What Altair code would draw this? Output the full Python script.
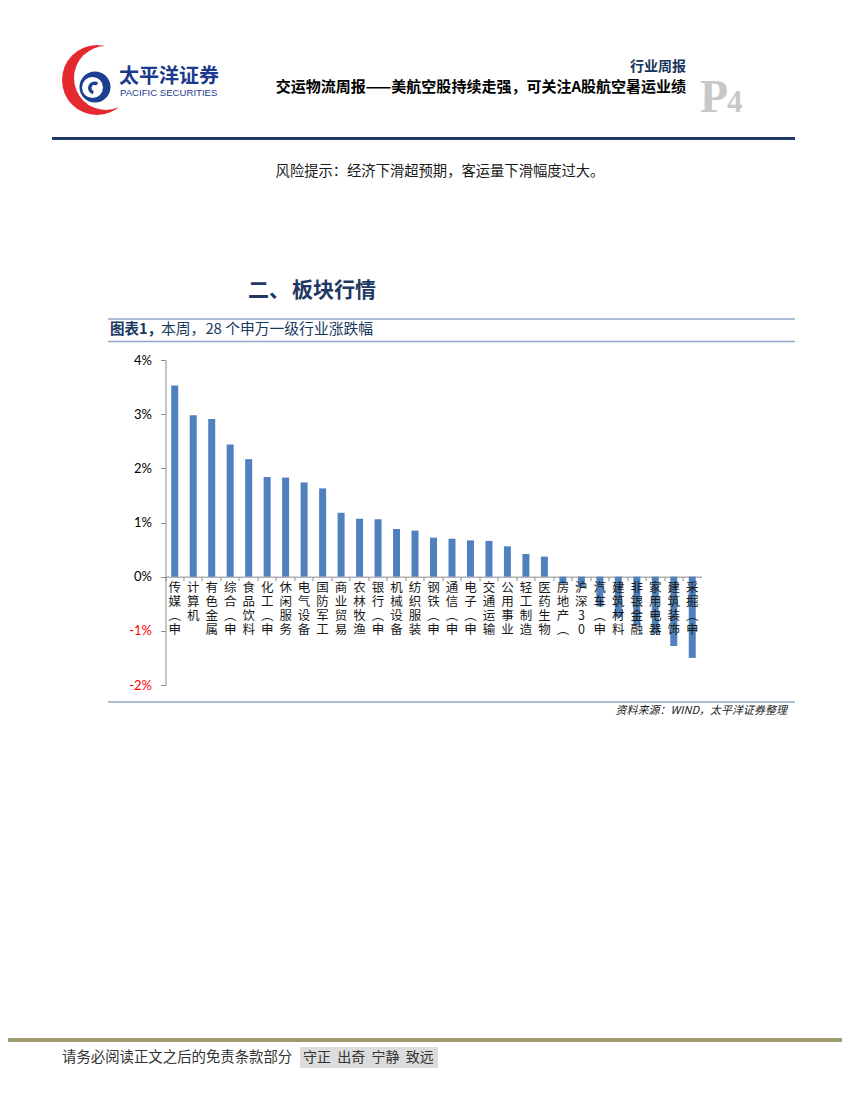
import math
import altair as alt
import pandas as pd

# ---------------- data ----------------
categories = ["传媒(申", "计算机", "有色金属", "综合(申", "食品饮料", "化工(申", "休闲服务",
              "电气设备", "国防军工", "商业贸易", "农林牧渔", "银行(申", "机械设备", "纺织服装",
              "钢铁(申", "通信(申", "电子(申", "交通运输", "公用事业", "轻工制造", "医药生物",
              "房地产(", "沪深30", "汽车(申", "建筑材料", "非银金融", "家用电器", "建筑装饰", "采掘(申"]
changes = [3.53, 2.98, 2.91, 2.44, 2.17, 1.84, 1.83, 1.74, 1.63, 1.18, 1.07, 1.06, 0.88, 0.85,
           0.72, 0.70, 0.67, 0.66, 0.56, 0.42, 0.37, -0.13, -0.20, -0.55, -0.75, -0.90, -1.05,
           -1.28, -1.50]
y_ticks = [-2, -1, 0, 1, 2, 3, 4]

df = pd.DataFrame({"cat": categories, "chg": changes})
ONE = pd.DataFrame({"k": [0]})

CJK = "Noto Sans CJK SC"
NAVY = "#1F3864"
NB = "\u00a0"

# plot origin on the page
OX, OY = 165.5, 360
W, H = 536, 325


def txt(text, x, y, size, color="#000000", bold=False, align="left", font=CJK,
        baseline="middle", italic=False):
    return alt.Chart(ONE).mark_text(
        text=text, align=align, baseline=baseline, fontSize=size, font=font,
        color=color, fontWeight="bold" if bold else "normal",
        fontStyle="italic" if italic else "normal"
    ).encode(x=alt.value(x - OX), y=alt.value(y - OY))


def hline(x1, x2, y, color, w):
    return alt.Chart(ONE).mark_rule(color=color, strokeWidth=w).encode(
        x=alt.value(x1 - OX), x2=alt.value(x2 - OX), y=alt.value(y - OY))


def rect(x1, x2, y1, y2, color):
    return alt.Chart(ONE).mark_rect(color=color).encode(
        x=alt.value(x1 - OX), x2=alt.value(x2 - OX),
        y=alt.value(y1 - OY), y2=alt.value(y2 - OY))


def disc(cx, cy, r, color, r_in=0, t1=0.0, t2=2 * math.pi):
    return alt.Chart(ONE).mark_arc(
        radius=r, radius2=r_in, theta=t1, theta2=t2, color=color, stroke=None
    ).encode(x=alt.value(cx - OX), y=alt.value(cy - OY))


# ---------------- chart ----------------
x_enc = alt.X("cat:N", sort=None, title=None,
              scale=alt.Scale(paddingInner=0, paddingOuter=0),
              axis=alt.Axis(labels=False, ticks=True, tickSize=4, bandPosition=0,
                            domainColor="#8C8C8C", tickColor="#8C8C8C",
                            offset=-H * 2 / 6, grid=False))

bars = alt.Chart(df).mark_bar(size=7, color="#4F81BD").encode(
    x=x_enc,
    y=alt.Y("chg:Q", title=None,
            scale=alt.Scale(domain=[-2, 4], nice=False, zero=False),
            axis=alt.Axis(values=y_ticks, labelExpr="datum.value + '%'", grid=False,
                          tickSize=5, domainColor="#8C8C8C", tickColor="#8C8C8C",
                          labelFont="Lato", labelFontSize=13, labelPadding=9,
                          labelColor={"expr": "datum.value < 0 ? '#FF0000' : '#000000'"}))
)

xlabels = alt.Chart(df).transform_calculate(
    lines="split(replace(datum.cat, '(', '︵'), '')"
).mark_text(baseline="top", align="center", fontSize=12.5, lineHeight=14, font=CJK,
            color="#1A1A1A").encode(
    x=x_enc,
    y=alt.value(582 - OY),
    text="lines:N"
)

# ---------------- page decorations ----------------
deco = [
    # logo
    disc(97, 80, 35, "#E42A2F"),
    disc(106, 78, 32, "#FFFFFF"),
    disc(95, 87, 15.5, "#1E3F91"),
    disc(92.5, 87.5, 10.5, "#FFFFFF"),
    disc(94.5, 88, 6.5, "#1E3F91", r_in=3, t1=3.4, t2=6.9),
    txt("太平洋证券", 119, 77, 20, "#1B3A8C", bold=True),
    txt("PACIFIC SECURITIES", 120, 92.5, 9.6, "#1B3A8C", font="Liberation Sans"),
    # header right
    txt("行业周报", 686, 67, 14, "#17365D", bold=True, align="right"),
    txt("交运物流周报——美航空股持续走强，可关注A股航空暑运业绩", 686, 87, 15, "#000000",
        bold=True, align="right"),
    txt("P", 700, 112, 46, "#C8C8C8", bold=True, font="Liberation Serif", baseline="alphabetic"),
    txt("4", 727, 112, 31, "#C8C8C8", bold=True, font="Liberation Serif", baseline="alphabetic"),
    hline(52, 795, 138.5, NAVY, 3),
    # body text
    txt("风险提示：经济下滑超预期，客运量下滑幅度过大。", 440, 172, 14.3, "#1A1A1A", align="center"),
    txt("二、", 248, 290.5, 21, NAVY, bold=True),
    txt("板块行情", 292, 290.5, 21, NAVY, bold=True),
    # chart frame
    hline(108, 795, 319, "#8EA9C8", 1.5),
    hline(108, 795, 341.5, "#8EA9C8", 1.5),
    txt("图表1，", 110, 330, 14.5, "#17375E", bold=True),
    txt("本周，28" + NB + "个申万一级行业涨跌幅", 161, 330, 14.8, "#17375E"),
    hline(108, 795, 702, "#8EA9C8", 1.5),
    txt("资料来源：WIND，太平洋证券整理", 787, 711, 11, "#1A1A1A", align="right", italic=True),
    # footer
    hline(0, 850, 1040, "#9D9A6E", 4),
    rect(300, 438, 1047, 1068, "#DCDCDC"),
    txt("请务必阅读正文之后的免责条款部分", 62, 1057.5, 14.4, "#333333"),
    txt("守正" + NB * 2 + "出奇" + NB * 2 + "宁静" + NB * 2 + "致远", 303, 1057.5, 14,
        "#333333"),
]

chart = alt.layer(bars, xlabels, *deco).properties(
    width=W, height=H,
    autosize=alt.AutoSizeParams(type="none"),
    padding={"left": OX - 8, "top": OY - 8, "right": 834 - (OX - 8) - W,
             "bottom": 1075 - OY - H},
    background="white",
).configure_view(stroke=None)

chart.save("out.html", embed_options={"renderer": "svg", "actions": False})
